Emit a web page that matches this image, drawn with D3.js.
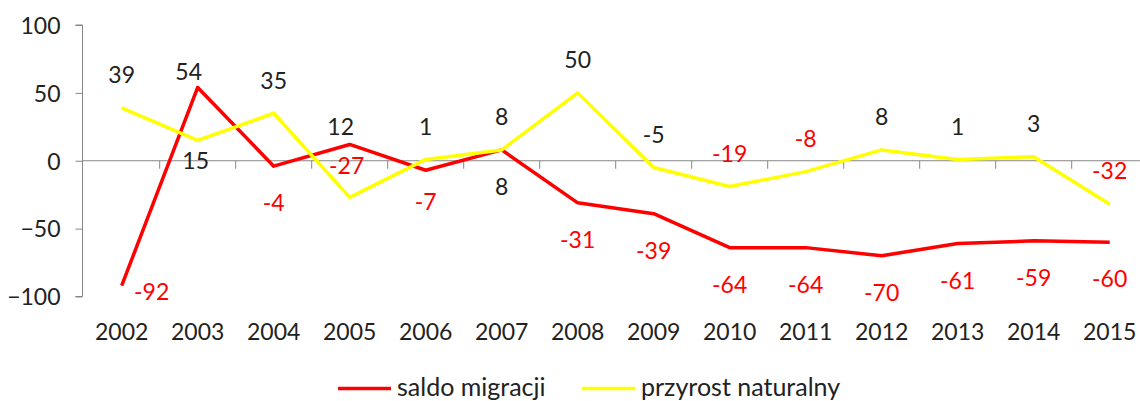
<!DOCTYPE html>
<html>
<head>
<meta charset="utf-8">
<script src="https://cdn.jsdelivr.net/npm/d3@7"></script>
<style>
  html, body { margin: 0; padding: 0; background: #fff; }
  svg { display: block; }
  text { font-family: Lato, "Open Sans", sans-serif; }
</style>
</head>
<body>
<svg id="chart" width="1140" height="401"></svg>
<script>
// ---- data ----
const years = ["2002","2003","2004","2005","2006","2007","2008","2009","2010","2011","2012","2013","2014","2015"];
const saldoMigracji = [-92, 54, -4, 12, -7, 8, -31, -39, -64, -64, -70, -61, -59, -60];
const przyrostNaturalny = [39, 15, 35, -27, 1, 8, 50, -5, -19, -8, 8, 1, 3, -32];
const yTicks = [-100, -50, 0, 50, 100];
const seriesNames = ["saldo migracji", "przyrost naturalny"];

// ---- label placement (style, not data) ----
const migLabelStyle = years.map(() => ({dx: 0, dy: 37}));
migLabelStyle[0] = {dx: 30, dy: 6};
migLabelStyle[1] = {dx: -9, dy: -16};
migLabelStyle[3] = {dx: -9, dy: -18};
migLabelStyle[4] = {dx: 0, dy: 31};
const przLabelStyle = years.map(() => ({dx: 0, dy: -33}));
przLabelStyle[1] = {dx: -2, dy: 20};
przLabelStyle[3] = {dx: -3, dy: -32};
const blackNegatives = new Set(["przyrost-7"]); // -5 label shown in black

const RED = "#ff0000", YELLOW = "#ffff00", TXT = "#222222", AXIS = "#868686";
const FS = 23;

const svg = d3.select("#chart");

const x = d3.scaleBand().domain(years).range([83.7, 83.7 + 14 * 76]).padding(0);
const y = d3.scaleLinear().domain([-100, 100]).range([296.5, 25]);
const cx = d => x(d) + x.bandwidth() / 2;

// y axis
const yAxis = d3.axisLeft(y).tickValues(yTicks).tickSize(7).tickPadding(15);
const gy = svg.append("g").attr("transform", "translate(82.5,0)").call(yAxis);
gy.select(".domain").attr("stroke", AXIS).attr("d", `M-7,${y(100)}H0V${y(-100)}H-7`);
gy.selectAll(".tick line").attr("stroke", AXIS);
gy.selectAll(".tick text").attr("fill", TXT).attr("font-size", FS).attr("font-family", "Lato").attr("dy", "0.36em");

// x axis at zero
const gx = svg.append("g").attr("transform", `translate(0,${y(0)})`);
gx.append("line").attr("x1", 82.5).attr("x2", 1140).attr("stroke", AXIS).attr("stroke-width", 1);
gx.selectAll("line.tk").data(years.slice(1)).join("line").attr("class", "tk")
  .attr("x1", d => x(d)).attr("x2", d => x(d)).attr("y1", 0).attr("y2", 8).attr("stroke", AXIS);
svg.append("g").selectAll("text").data(years).join("text")
  .attr("x", d => cx(d)).attr("y", 340).attr("text-anchor", "middle")
  .attr("font-size", FS).attr("fill", TXT).text(d => d);

// lines
const line = d3.line().x((d, i) => cx(years[i])).y(d => y(d));
svg.append("path").datum(saldoMigracji).attr("d", line).attr("fill", "none")
  .attr("stroke", RED).attr("stroke-width", 3.5).attr("stroke-linejoin", "round");
svg.append("path").datum(przyrostNaturalny).attr("d", line).attr("fill", "none")
  .attr("stroke", YELLOW).attr("stroke-width", 3.5).attr("stroke-linejoin", "round");

// data labels
function labels(vals, styles, key) {
  svg.append("g").selectAll("text").data(vals).join("text")
    .attr("x", (d, i) => cx(years[i]) + styles[i].dx)
    .attr("y", (d, i) => y(d) + styles[i].dy)
    .attr("dy", "0.36em")
    .attr("text-anchor", "middle").attr("font-size", FS)
    .attr("fill", (d, i) => (d < 0 && !blackNegatives.has(key + "-" + i)) ? RED : TXT)
    .text(d => d);
}
labels(saldoMigracji, migLabelStyle, "saldo");
labels(przyrostNaturalny, przLabelStyle, "przyrost");

// legend
const legend = [{name: seriesNames[0], color: RED, x: 338}, {name: seriesNames[1], color: YELLOW, x: 582}];
const lg = svg.append("g").selectAll("g").data(legend).join("g");
lg.append("line").attr("x1", d => d.x).attr("x2", d => d.x + 53).attr("y1", 388.5).attr("y2", 388.5)
  .attr("stroke", d => d.color).attr("stroke-width", 3.5);
lg.append("text").attr("x", d => d.x + 59).attr("y", 396).attr("font-size", 25).attr("fill", TXT).text(d => d.name);
</script>
</body>
</html>
